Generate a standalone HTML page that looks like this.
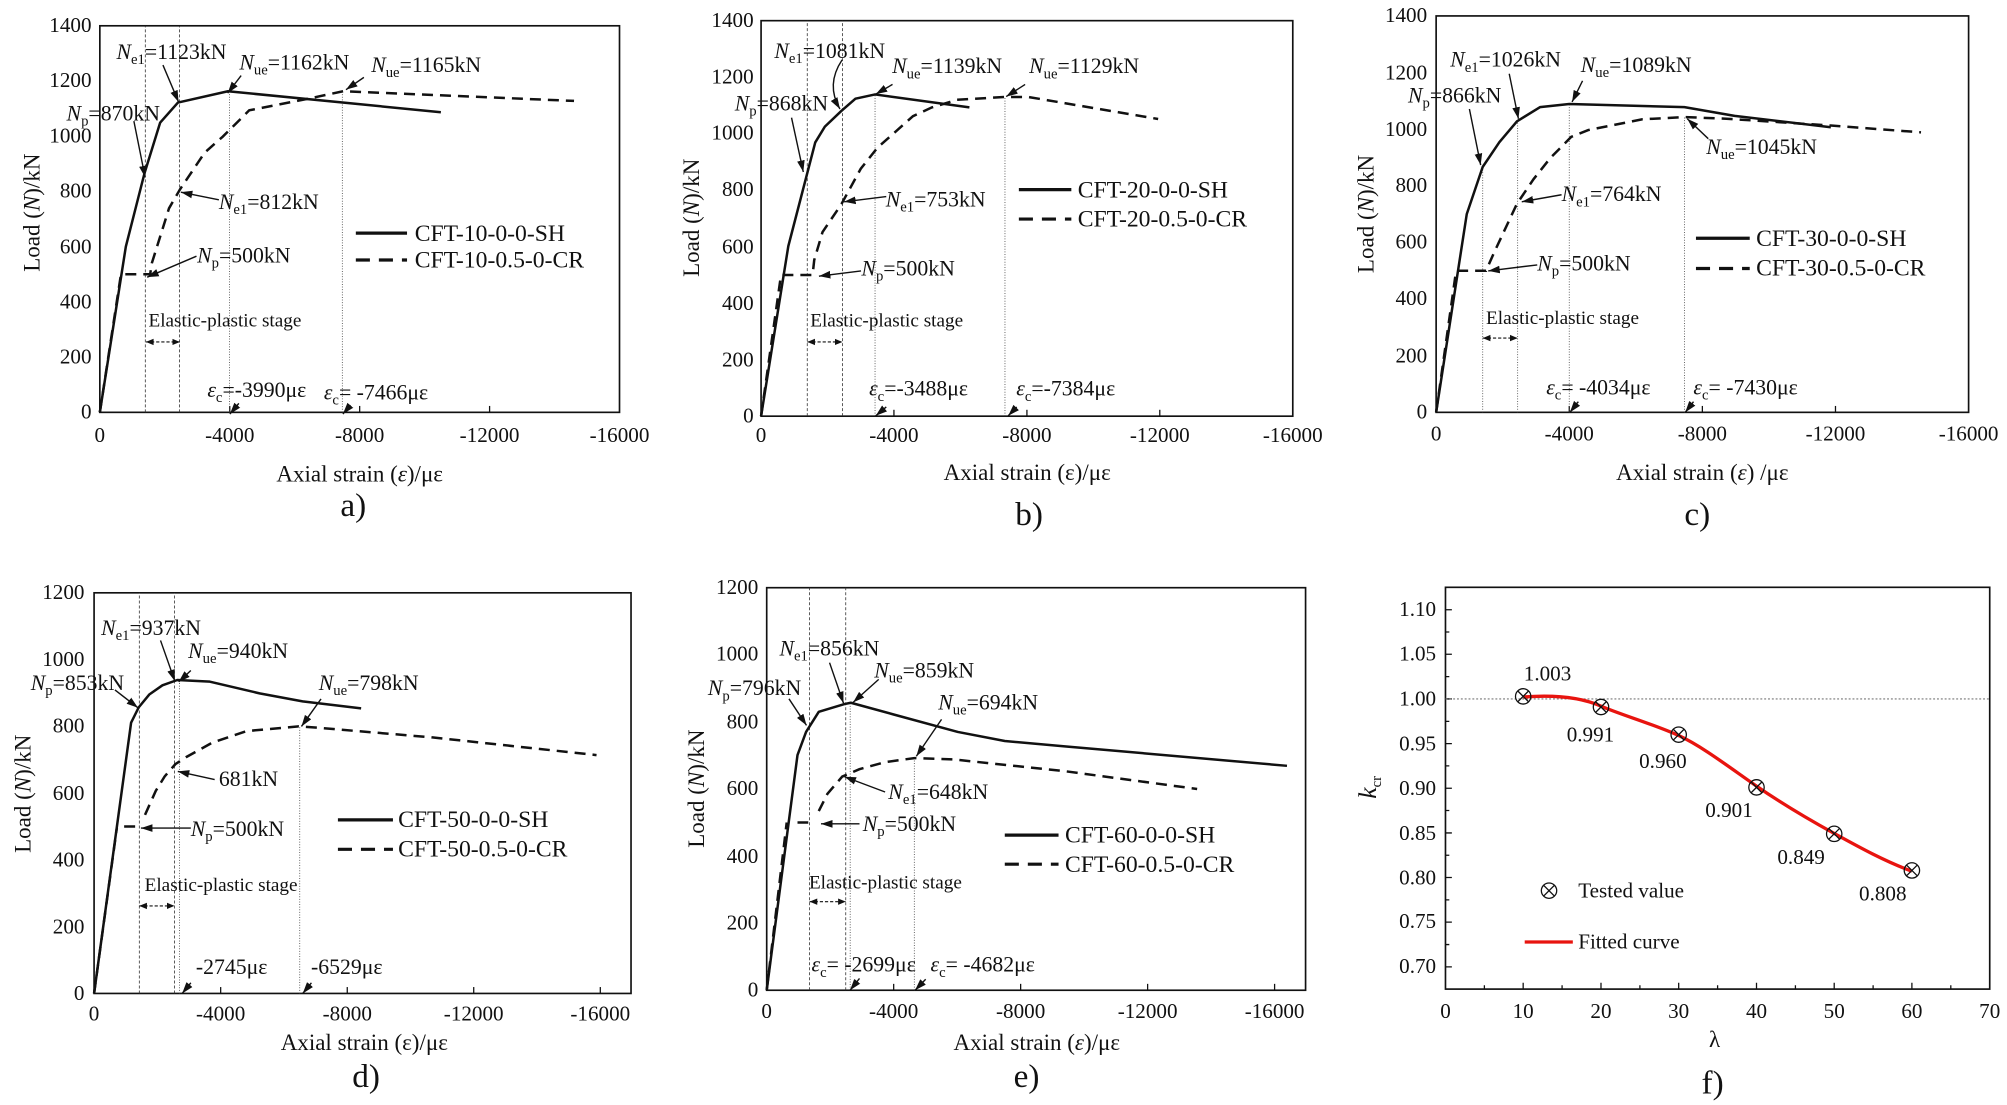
<!DOCTYPE html>
<html><head><meta charset="utf-8"><style>
html,body{margin:0;padding:0;background:#fff}
svg{display:block}
text{font-family:"Liberation Serif",serif;fill:#111}
.t{font-size:16.5px}
.an{font-size:17px}
.lg{font-size:18.5px}
.ti{font-size:18px}
.pl{font-size:26px}
.ep{font-size:15px}
.sub{font-size:11.5px}
.s{fill:none;stroke:#111;stroke-width:2.5;vector-effect:non-scaling-stroke;stroke-linejoin:round}
.d{fill:none;stroke:#111;stroke-width:2.5;stroke-dasharray:11 7;vector-effect:non-scaling-stroke}
.vd{fill:none;stroke:#333;stroke-width:0.8;stroke-dasharray:3 2;vector-effect:non-scaling-stroke}
.vt{fill:none;stroke:#444;stroke-width:0.8;stroke-dasharray:1 1.6;vector-effect:non-scaling-stroke}
.fr{fill:none;stroke:#111;stroke-width:1.3}
.tk{stroke:#111;stroke-width:1}
.ar path{stroke:#111;stroke-width:1.1;fill:none;marker-end:url(#ah)}
.da{stroke:#111;stroke-width:0.9;stroke-dasharray:2.5 1.5;fill:none;marker-end:url(#ah2);marker-start:url(#ah2s)}
</style></head><body>
<svg width="2007" height="1105" viewBox="0 0 1568 863" xmlns="http://www.w3.org/2000/svg">
<defs>
<marker id="ah" markerWidth="10" markerHeight="8" refX="9" refY="4" orient="auto" markerUnits="userSpaceOnUse"><path d="M0,1 L9,4 L0,7 Z" fill="#111"/></marker>
<marker id="ah2" markerWidth="7" markerHeight="6" refX="6" refY="3" orient="auto" markerUnits="userSpaceOnUse"><path d="M0,0.5 L6,3 L0,5.5 Z" fill="#111"/></marker>
<marker id="ah2s" markerWidth="7" markerHeight="6" refX="0" refY="3" orient="auto" markerUnits="userSpaceOnUse"><path d="M6,0.5 L0,3 L6,5.5 Z" fill="#111"/></marker>
</defs>
<rect width="1568" height="863" fill="#fff"/>

<!-- ================= PANEL A ================= -->
<rect class="fr" x="78" y="20" width="406" height="302"/>
<g class="tk"><line x1="179.5" y1="322" x2="179.5" y2="317"/><line x1="281" y1="322" x2="281" y2="317"/><line x1="382.5" y1="322" x2="382.5" y2="317"/></g>
<g class="t" text-anchor="end"><text x="71.5" y="327">0</text><text x="71.5" y="284">200</text><text x="71.5" y="241">400</text><text x="71.5" y="198">600</text><text x="71.5" y="154">800</text><text x="71.5" y="111">1000</text><text x="71.5" y="68">1200</text><text x="71.5" y="25">1400</text></g>
<g class="t" text-anchor="middle"><text x="78" y="345">0</text><text x="179.5" y="345">-4000</text><text x="281" y="345">-8000</text><text x="382.5" y="345">-12000</text><text x="484" y="345">-16000</text></g>
<text class="ti" x="281" y="376" text-anchor="middle">Axial strain (<tspan font-style="italic">ε</tspan>)/με</text>
<text class="pl" x="276" y="403" text-anchor="middle">a)</text>
<text class="ti" transform="translate(31,166) rotate(-90)" text-anchor="middle">Load (<tspan font-style="italic">N</tspan>)/kN</text>
<g transform="translate(78,322) scale(25.375,-0.2157)">
<path class="vd" d="M1.4,0V1400M2.45,0V1400"/>
<path class="vt" d="M3.99,0V1163M7.466,0V1165"/>
<path class="s" d="M0,0L0.8,600L1.375,866L1.856,1049L2.405,1122L3.945,1163L10.5,1087"/>
<path class="d" d="M0,0L0.65,500L1.55,500L1.6,540L2.13,739L2.47,808L3.23,941L3.78,998L4.6,1094L6.25,1132L7.49,1163L14.6,1128"/>
</g>
<g class="an">
<text x="91" y="46"><tspan font-style="italic">N</tspan><tspan class="sub" dy="4">e1</tspan><tspan dy="-4">=1123kN</tspan></text>
<text x="187" y="54"><tspan font-style="italic">N</tspan><tspan class="sub" dy="4">ue</tspan><tspan dy="-4">=1162kN</tspan></text>
<text x="290" y="56"><tspan font-style="italic">N</tspan><tspan class="sub" dy="4">ue</tspan><tspan dy="-4">=1165kN</tspan></text>
<text x="52" y="94"><tspan font-style="italic">N</tspan><tspan class="sub" dy="4">p</tspan><tspan dy="-4">=870kN</tspan></text>
<text x="171" y="163"><tspan font-style="italic">N</tspan><tspan class="sub" dy="4">e1</tspan><tspan dy="-4">=812kN</tspan></text>
<text x="154" y="205"><tspan font-style="italic">N</tspan><tspan class="sub" dy="4">p</tspan><tspan dy="-4">=500kN</tspan></text>
<text x="162" y="310"><tspan font-style="italic">ε</tspan><tspan class="sub" dy="4">c</tspan><tspan dy="-4">=-3990με</tspan></text>
<text x="253" y="312"><tspan font-style="italic">ε</tspan><tspan class="sub" dy="4">c</tspan><tspan dy="-4">= -7466με</tspan></text>
</g>
<text class="ep" x="116" y="255">Elastic-plastic stage</text>
<path class="da" d="M114,267H140.6"/>
<g class="ar"><path d="M127.3,50.7L139.5,79.5"/><path d="M188.4,58.9L177.9,72.6"/><path d="M284.3,60.3L270.3,69.9"/><path d="M104.6,94.5L113.4,138.4"/><path d="M171,156L141.3,150"/><path d="M153.5,200L115,216.4"/><path d="M186.6,315L179.6,323.3"/><path d="M273.8,316.4L267.9,323.3"/></g>
<line x1="278" y1="182" x2="318" y2="182" stroke="#111" stroke-width="2.5"/>
<line x1="278" y1="203" x2="318" y2="203" stroke="#111" stroke-width="2.5" stroke-dasharray="11 7"/>
<text class="lg" x="324" y="188">CFT-10-0-0-SH</text>
<text class="lg" x="324" y="209">CFT-10-0.5-0-CR</text>

<!-- ================= PANEL B ================= -->
<rect class="fr" x="594.6" y="16" width="415.4" height="309"/>
<g class="tk"><line x1="698.4" y1="325" x2="698.4" y2="320"/><line x1="802.3" y1="325" x2="802.3" y2="320"/><line x1="906.1" y1="325" x2="906.1" y2="320"/></g>
<g class="t" text-anchor="end"><text x="588.8" y="330">0</text><text x="588.8" y="286">200</text><text x="588.8" y="242">400</text><text x="588.8" y="198">600</text><text x="588.8" y="153">800</text><text x="588.8" y="109">1000</text><text x="588.8" y="65">1200</text><text x="588.8" y="21">1400</text></g>
<g class="t" text-anchor="middle"><text x="594.6" y="345">0</text><text x="698.4" y="345">-4000</text><text x="802.3" y="345">-8000</text><text x="906.1" y="345">-12000</text><text x="1010" y="345">-16000</text></g>
<text class="ti" x="802.5" y="375" text-anchor="middle">Axial strain (ε)/με</text>
<text class="pl" x="804" y="410" text-anchor="middle">b)</text>
<text class="ti" transform="translate(546,170) rotate(-90)" text-anchor="middle">Load (<tspan font-style="italic">N</tspan>)/kN</text>
<g transform="translate(594.6,325) scale(25.96,-0.2207)">
<path class="vd" d="M1.39,0V1400M2.45,0V1400"/>
<path class="vt" d="M3.43,0V1139M7.34,0V1129"/>
<path class="s" d="M0,0L0.82,602L1.63,969L1.92,1025L2.42,1081L2.84,1124L3.43,1139L6.27,1093"/>
<path class="d" d="M0,0L0.6,500L1.55,500L1.6,553L1.85,652L2.42,751L3.0,876L3.5,950L4.57,1062L5.14,1093L5.9,1120L7.34,1130L8.04,1130L11.95,1052"/>
</g>
<g class="an">
<text x="605" y="45"><tspan font-style="italic">N</tspan><tspan class="sub" dy="4">e1</tspan><tspan dy="-4">=1081kN</tspan></text>
<text x="697" y="57"><tspan font-style="italic">N</tspan><tspan class="sub" dy="4">ue</tspan><tspan dy="-4">=1139kN</tspan></text>
<text x="804" y="57"><tspan font-style="italic">N</tspan><tspan class="sub" dy="4">ue</tspan><tspan dy="-4">=1129kN</tspan></text>
<text x="574" y="86"><tspan font-style="italic">N</tspan><tspan class="sub" dy="4">p</tspan><tspan dy="-4">=868kN</tspan></text>
<text x="692" y="161"><tspan font-style="italic">N</tspan><tspan class="sub" dy="4">e1</tspan><tspan dy="-4">=753kN</tspan></text>
<text x="673" y="215"><tspan font-style="italic">N</tspan><tspan class="sub" dy="4">p</tspan><tspan dy="-4">=500kN</tspan></text>
<text x="679" y="309"><tspan font-style="italic">ε</tspan><tspan class="sub" dy="4">c</tspan><tspan dy="-4">=-3488με</tspan></text>
<text x="794" y="309"><tspan font-style="italic">ε</tspan><tspan class="sub" dy="4">c</tspan><tspan dy="-4">=-7384με</tspan></text>
</g>
<text class="ep" x="633" y="255">Elastic-plastic stage</text>
<path class="da" d="M630.7,267H658.2"/>
<g class="ar"><path d="M657.9,46.6Q645,66 656.2,85"/><path d="M697.3,65.8L684.2,73.4"/><path d="M800.9,65.8L786.1,75.3"/><path d="M618.4,91.8L627.6,134.2"/><path d="M692.4,153.4L659.5,157.5"/><path d="M672.7,211.5L639.8,215.6"/><path d="M692.4,317.8L684.2,324.7"/><path d="M794.3,317.8L787.7,324.7"/></g>
<line x1="796" y1="148" x2="837" y2="148" stroke="#111" stroke-width="2.5"/>
<line x1="796" y1="171" x2="837" y2="171" stroke="#111" stroke-width="2.5" stroke-dasharray="11 7"/>
<text class="lg" x="842" y="154">CFT-20-0-0-SH</text>
<text class="lg" x="842" y="177">CFT-20-0.5-0-CR</text>

<!-- ================= PANEL C ================= -->
<rect class="fr" x="1122" y="12.3" width="416" height="309.7"/>
<g class="tk"><line x1="1226" y1="322" x2="1226" y2="317"/><line x1="1330" y1="322" x2="1330" y2="317"/><line x1="1434" y1="322" x2="1434" y2="317"/></g>
<g class="t" text-anchor="end"><text x="1115" y="327">0</text><text x="1115" y="283">200</text><text x="1115" y="238">400</text><text x="1115" y="194">600</text><text x="1115" y="150">800</text><text x="1115" y="106">1000</text><text x="1115" y="62">1200</text><text x="1115" y="17">1400</text></g>
<g class="t" text-anchor="middle"><text x="1122" y="344">0</text><text x="1226" y="344">-4000</text><text x="1330" y="344">-8000</text><text x="1434" y="344">-12000</text><text x="1538" y="344">-16000</text></g>
<text class="ti" x="1330" y="375" text-anchor="middle">Axial strain (<tspan font-style="italic">ε</tspan>) /με</text>
<text class="pl" x="1326" y="410" text-anchor="middle">c)</text>
<text class="ti" transform="translate(1073,167) rotate(-90)" text-anchor="middle">Load (<tspan font-style="italic">N</tspan>)/kN</text>
<g transform="translate(1122,322) scale(26,-0.2212)">
<path class="vt" d="M1.40,0V867M2.45,0V1028M4.0,0V1089M7.46,0V1043"/>
<path class="s" d="M0,0L0.92,700L1.40,867L1.90,954L2.43,1028L3.12,1078L4.0,1089L7.46,1078L8.97,1047L11.86,1007"/>
<path class="d" d="M0,0L0.6,500L1.5,500L1.74,564L2.43,737L2.93,824L3.43,898L4.06,973L4.57,997L6.2,1035L7.46,1043L8.72,1037L11.86,1013L14.57,989"/>
</g>
<g class="an">
<text x="1133" y="52"><tspan font-style="italic">N</tspan><tspan class="sub" dy="4">e1</tspan><tspan dy="-4">=1026kN</tspan></text>
<text x="1235" y="56"><tspan font-style="italic">N</tspan><tspan class="sub" dy="4">ue</tspan><tspan dy="-4">=1089kN</tspan></text>
<text x="1100" y="80"><tspan font-style="italic">N</tspan><tspan class="sub" dy="4">p</tspan><tspan dy="-4">=866kN</tspan></text>
<text x="1333" y="120"><tspan font-style="italic">N</tspan><tspan class="sub" dy="4">ue</tspan><tspan dy="-4">=1045kN</tspan></text>
<text x="1220" y="157"><tspan font-style="italic">N</tspan><tspan class="sub" dy="4">e1</tspan><tspan dy="-4">=764kN</tspan></text>
<text x="1201" y="211"><tspan font-style="italic">N</tspan><tspan class="sub" dy="4">p</tspan><tspan dy="-4">=500kN</tspan></text>
<text x="1208" y="308"><tspan font-style="italic">ε</tspan><tspan class="sub" dy="4">c</tspan><tspan dy="-4">= -4034με</tspan></text>
<text x="1323" y="308"><tspan font-style="italic">ε</tspan><tspan class="sub" dy="4">c</tspan><tspan dy="-4">= -7430με</tspan></text>
</g>
<text class="ep" x="1161" y="253">Elastic-plastic stage</text>
<path class="da" d="M1158.4,264H1185.7"/>
<g class="ar"><path d="M1179.1,57.5L1186.3,92.6"/><path d="M1236.4,63L1228.2,79.5"/><path d="M1148,85L1156.8,128.8"/><path d="M1334.6,108.2L1318.2,92.6"/><path d="M1220,152L1188.9,157.5"/><path d="M1201,206.8L1162.7,211.5"/><path d="M1233.1,313.7L1226.5,322"/><path d="M1323.1,313.7L1316.6,322"/></g>
<line x1="1325" y1="186" x2="1367" y2="186" stroke="#111" stroke-width="2.5"/>
<line x1="1325" y1="209.6" x2="1367" y2="209.6" stroke="#111" stroke-width="2.5" stroke-dasharray="11 7"/>
<text class="lg" x="1372" y="192">CFT-30-0-0-SH</text>
<text class="lg" x="1372" y="215">CFT-30-0.5-0-CR</text>

<!-- ================= PANEL D ================= -->
<rect class="fr" x="73.5" y="463" width="419.5" height="313"/>
<g class="tk"><line x1="172.4" y1="776" x2="172.4" y2="771"/><line x1="271.3" y1="776" x2="271.3" y2="771"/><line x1="370.1" y1="776" x2="370.1" y2="771"/><line x1="469" y1="776" x2="469" y2="771"/></g>
<g class="t" text-anchor="end"><text x="66" y="781">0</text><text x="66" y="729">200</text><text x="66" y="677">400</text><text x="66" y="625">600</text><text x="66" y="572">800</text><text x="66" y="520">1000</text><text x="66" y="468">1200</text></g>
<g class="t" text-anchor="middle"><text x="73.5" y="797">0</text><text x="172.4" y="797">-4000</text><text x="271.3" y="797">-8000</text><text x="370.1" y="797">-12000</text><text x="469" y="797">-16000</text></g>
<text class="ti" x="284.6" y="820" text-anchor="middle">Axial strain (ε)/με</text>
<text class="pl" x="286" y="849" text-anchor="middle">d)</text>
<text class="ti" transform="translate(24,620) rotate(-90)" text-anchor="middle">Load (<tspan font-style="italic">N</tspan>)/kN</text>
<g transform="translate(73.5,776) scale(24.72,-0.2608)">
<path class="vd" d="M1.43,0V1200M2.54,0V1200"/>
<path class="vt" d="M2.70,0V940M6.50,0V798"/>
<path class="s" d="M0,0L1.17,811L1.41,857L1.75,896L2.16,923L2.63,939L3.66,934L5.23,899L6.59,875L8.44,854"/>
<path class="d" d="M0,0L0.72,496M0.95,500L1.4,500M1.61,535L1.95,607L2.23,650L2.57,687L2.91,708L3.73,751L4.82,786L6.46,800L7.07,796L10.69,767L15.88,714"/>
</g>
<g class="an">
<text x="79" y="496"><tspan font-style="italic">N</tspan><tspan class="sub" dy="4">e1</tspan><tspan dy="-4">=937kN</tspan></text>
<text x="147" y="514"><tspan font-style="italic">N</tspan><tspan class="sub" dy="4">ue</tspan><tspan dy="-4">=940kN</tspan></text>
<text x="24" y="539"><tspan font-style="italic">N</tspan><tspan class="sub" dy="4">p</tspan><tspan dy="-4">=853kN</tspan></text>
<text x="249" y="539"><tspan font-style="italic">N</tspan><tspan class="sub" dy="4">ue</tspan><tspan dy="-4">=798kN</tspan></text>
<text x="171" y="614">681kN</text>
<text x="149" y="653"><tspan font-style="italic">N</tspan><tspan class="sub" dy="4">p</tspan><tspan dy="-4">=500kN</tspan></text>
<text x="153" y="761">-2745με</text>
<text x="243" y="761">-6529με</text>
</g>
<text class="ep" x="113" y="696">Elastic-plastic stage</text>
<path class="da" d="M108.8,707.6H136.3"/>
<g class="ar"><path d="M125.4,500.2L136.6,532"/><path d="M149.1,523.7L139.6,532.6"/><path d="M89.8,538.9L107.8,552.8"/><path d="M250.8,545.9L235.5,567.4"/><path d="M167.7,608.9L138.9,602.5"/><path d="M149.1,646.8L110.1,646.8"/><path d="M149.1,767.7L142.3,776"/><path d="M243.3,767.7L236.5,776"/></g>
<line x1="264" y1="640.4" x2="307" y2="640.4" stroke="#111" stroke-width="2.5"/>
<line x1="264" y1="663.4" x2="307" y2="663.4" stroke="#111" stroke-width="2.5" stroke-dasharray="11 7"/>
<text class="lg" x="311" y="646">CFT-50-0-0-SH</text>
<text class="lg" x="311" y="669">CFT-50-0.5-0-CR</text>

<!-- ================= PANEL E ================= -->
<rect class="fr" x="599" y="459" width="421" height="314.5"/>
<g class="tk"><line x1="698.2" y1="773.5" x2="698.2" y2="768.5"/><line x1="797.4" y1="773.5" x2="797.4" y2="768.5"/><line x1="896.6" y1="773.5" x2="896.6" y2="768.5"/><line x1="995.8" y1="773.5" x2="995.8" y2="768.5"/></g>
<g class="t" text-anchor="end"><text x="592.4" y="778.5">0</text><text x="592.4" y="726">200</text><text x="592.4" y="674">400</text><text x="592.4" y="621">600</text><text x="592.4" y="569">800</text><text x="592.4" y="516">1000</text><text x="592.4" y="464">1200</text></g>
<g class="t" text-anchor="middle"><text x="599" y="795">0</text><text x="698.2" y="795">-4000</text><text x="797.4" y="795">-8000</text><text x="896.6" y="795">-12000</text><text x="995.8" y="795">-16000</text></g>
<text class="ti" x="810" y="820" text-anchor="middle">Axial strain (<tspan font-style="italic">ε</tspan>)/με</text>
<text class="pl" x="802" y="849" text-anchor="middle">e)</text>
<text class="ti" transform="translate(550,616) rotate(-90)" text-anchor="middle">Load (<tspan font-style="italic">N</tspan>)/kN</text>
<g transform="translate(599,773.5) scale(24.8,-0.2621)">
<path class="vd" d="M1.35,0V1200M2.49,0V1200"/>
<path class="vt" d="M2.63,0V859M4.65,0V694"/>
<path class="s" d="M0,0L0.97,701L1.24,770L1.64,830L2.45,853L2.65,857L4.0,822L6.02,770L7.5,743L9.39,727L16.39,669"/>
<path class="d" d="M0,0L0.63,500M0.97,500L1.31,500M1.64,534L1.91,585L2.38,637L2.92,659L3.73,680L4.65,692L5.89,688L9.39,653L13.56,600"/>
</g>
<g class="an">
<text x="609" y="512"><tspan font-style="italic">N</tspan><tspan class="sub" dy="4">e1</tspan><tspan dy="-4">=856kN</tspan></text>
<text x="683" y="529"><tspan font-style="italic">N</tspan><tspan class="sub" dy="4">ue</tspan><tspan dy="-4">=859kN</tspan></text>
<text x="553" y="543"><tspan font-style="italic">N</tspan><tspan class="sub" dy="4">p</tspan><tspan dy="-4">=796kN</tspan></text>
<text x="733" y="554"><tspan font-style="italic">N</tspan><tspan class="sub" dy="4">ue</tspan><tspan dy="-4">=694kN</tspan></text>
<text x="694" y="624"><tspan font-style="italic">N</tspan><tspan class="sub" dy="4">e1</tspan><tspan dy="-4">=648kN</tspan></text>
<text x="674" y="649"><tspan font-style="italic">N</tspan><tspan class="sub" dy="4">p</tspan><tspan dy="-4">=500kN</tspan></text>
<text x="634" y="759"><tspan font-style="italic">ε</tspan><tspan class="sub" dy="4">c</tspan><tspan dy="-4">= -2699με</tspan></text>
<text x="727" y="759"><tspan font-style="italic">ε</tspan><tspan class="sub" dy="4">c</tspan><tspan dy="-4">= -4682με</tspan></text>
</g>
<text class="ep" x="632" y="694">Elastic-plastic stage</text>
<path class="da" d="M632.5,704.3H660.8"/>
<g class="ar"><path d="M648.1,517.6L659,549.2"/><path d="M686.5,530.6L666.5,548.6"/><path d="M616.4,545.8L630.1,566.6"/><path d="M735.6,561.9L715.9,590.7"/><path d="M691.5,618.6L659.8,606.7"/><path d="M671.5,643.5L641.4,643.5"/><path d="M671.5,764.3L664.1,773.5"/><path d="M723.2,764.9L714.9,773.5"/></g>
<line x1="785" y1="652.3" x2="827" y2="652.3" stroke="#111" stroke-width="2.5"/>
<line x1="785" y1="675" x2="827" y2="675" stroke="#111" stroke-width="2.5" stroke-dasharray="11 7"/>
<text class="lg" x="832" y="658">CFT-60-0-0-SH</text>
<text class="lg" x="832" y="681">CFT-60-0.5-0-CR</text>

<!-- ================= PANEL F ================= -->
<rect class="fr" x="1129.3" y="458.7" width="425.2" height="313.9"/>
<g class="tk">
<path d="M1129.3,755.2h5M1129.3,737.8h3M1129.3,720.3h5M1129.3,702.9h3M1129.3,685.4h5M1129.3,668h3M1129.3,650.6h5M1129.3,633.1h3M1129.3,615.7h5M1129.3,598.2h3M1129.3,580.8h5M1129.3,563.4h3M1129.3,545.9h5M1129.3,528.5h3M1129.3,511h5M1129.3,493.6h3M1129.3,476.2h5" stroke="#111" fill="none"/>
<path d="M1159.7,772.6v-3M1190,772.6v-5M1220.4,772.6v-3M1250.8,772.6v-5M1281.2,772.6v-3M1311.5,772.6v-5M1341.9,772.6v-3M1372.3,772.6v-5M1402.7,772.6v-3M1433,772.6v-5M1463.4,772.6v-3M1493.7,772.6v-5M1524.1,772.6v-3" stroke="#111" fill="none"/>
</g>
<g class="t" text-anchor="end"><text x="1122" y="760">0.70</text><text x="1122" y="725">0.75</text><text x="1122" y="691">0.80</text><text x="1122" y="656">0.85</text><text x="1122" y="621">0.90</text><text x="1122" y="586">0.95</text><text x="1122" y="551">1.00</text><text x="1122" y="516">1.05</text><text x="1122" y="481">1.10</text></g>
<g class="t" text-anchor="middle"><text x="1129.3" y="795">0</text><text x="1190" y="795">10</text><text x="1250.8" y="795">20</text><text x="1311.5" y="795">30</text><text x="1372.3" y="795">40</text><text x="1433" y="795">50</text><text x="1493.7" y="795">60</text><text x="1554.5" y="795">70</text></g>
<text class="ti" x="1339.5" y="818" text-anchor="middle">λ</text>
<text class="pl" x="1338" y="854" text-anchor="middle">f)</text>
<text class="ti" transform="translate(1075,615) rotate(-90)" text-anchor="middle"><tspan font-style="italic" font-size="20">k</tspan><tspan class="sub" font-size="13" dy="4">cr</tspan></text>
<line x1="1129.3" y1="545.9" x2="1554.5" y2="545.9" stroke="#777" stroke-width="0.8" stroke-dasharray="1.5 1.5"/>
<path d="M1190,544.4C1215,542.5 1236,545 1250.8,551.5S1293,566 1311.5,574.5S1352,600 1372.3,614S1413,640 1433,651S1473,673 1493.7,680.5" fill="none" stroke="#e8140f" stroke-width="2.6"/>
<g fill="none" stroke="#111" stroke-width="1">
<circle cx="1190" cy="543.9" r="6"/><path d="M1185.8,539.7l8.4,8.4m0,-8.4l-8.4,8.4"/>
<circle cx="1250.8" cy="552.2" r="6"/><path d="M1246.6,548l8.4,8.4m0,-8.4l-8.4,8.4"/>
<circle cx="1311.5" cy="573.8" r="6"/><path d="M1307.3,569.6l8.4,8.4m0,-8.4l-8.4,8.4"/>
<circle cx="1372.3" cy="615" r="6"/><path d="M1368.1,610.8l8.4,8.4m0,-8.4l-8.4,8.4"/>
<circle cx="1433" cy="651.3" r="6"/><path d="M1428.8,647.1l8.4,8.4m0,-8.4l-8.4,8.4"/>
<circle cx="1493.7" cy="679.9" r="6"/><path d="M1489.5,675.7l8.4,8.4m0,-8.4l-8.4,8.4"/>
<circle cx="1210.2" cy="695.7" r="6"/><path d="M1206,691.5l8.4,8.4m0,-8.4l-8.4,8.4"/>
</g>
<g class="t">
<text x="1190.5" y="531.5">1.003</text>
<text x="1224" y="579">0.991</text>
<text x="1280.6" y="600">0.960</text>
<text x="1332.3" y="638">0.901</text>
<text x="1388.6" y="675">0.849</text>
<text x="1452.4" y="703.5">0.808</text>
</g>
<text class="t" x="1233" y="701">Tested value</text>
<line x1="1191.2" y1="735.8" x2="1228.8" y2="735.8" stroke="#e8140f" stroke-width="2.6"/>
<text class="t" x="1233" y="741">Fitted curve</text>
</svg>
</body></html>
